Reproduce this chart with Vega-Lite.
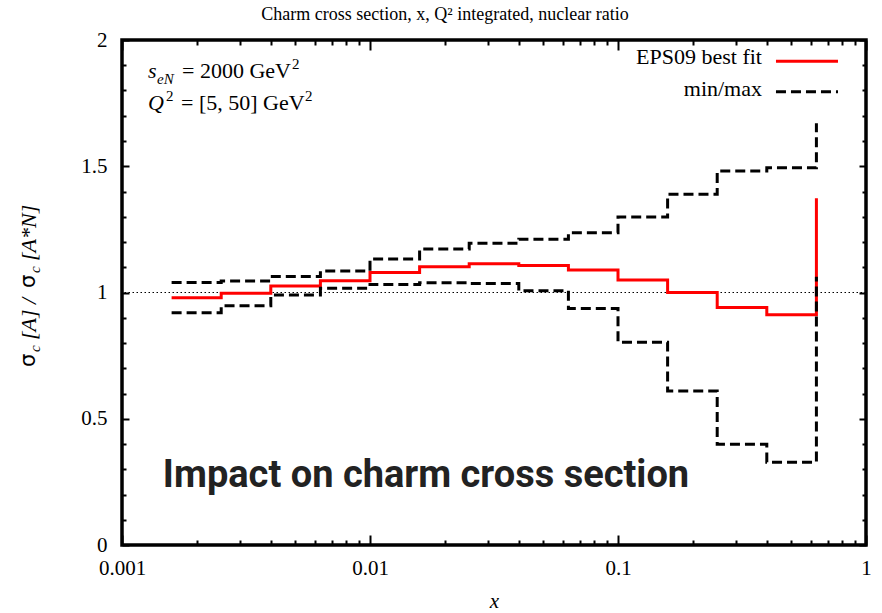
{
 "$schema": "https://vega.github.io/schema/vega-lite/v6.json",
 "width": 744, "height": 505, "autosize": "none",
 "padding": {"left": 122, "top": 40, "right": 16, "bottom": 68},
 "background": "white",
 "config": {"view": {"stroke": "#000", "strokeWidth": 3.5}, "font": "Liberation Serif"},
 "title": {"text": "Charm cross section, x, Q² integrated, nuclear ratio", "font": "Liberation Serif", "fontSize": 18, "fontWeight": "normal", "color": "#000", "anchor": "middle", "dx": -49, "offset": 5},
 "datasets": {
  "best": [
   {"x": 0.001585, "y": 0.979}, {"x": 0.002512, "y": 0.997}, {"x": 0.003981, "y": 1.026},
   {"x": 0.00631, "y": 1.047}, {"x": 0.01, "y": 1.079}, {"x": 0.01585, "y": 1.102},
   {"x": 0.02512, "y": 1.114}, {"x": 0.03981, "y": 1.107}, {"x": 0.0631, "y": 1.089},
   {"x": 0.1, "y": 1.05}, {"x": 0.1585, "y": 1.0}, {"x": 0.2512, "y": 0.941},
   {"x": 0.3981, "y": 0.912}, {"x": 0.631, "y": 1.373}
  ],
  "minmax": [
   {"series": "max", "x": 0.001585, "y": 1.04}, {"series": "max", "x": 0.002512, "y": 1.046},
   {"series": "max", "x": 0.003981, "y": 1.063}, {"series": "max", "x": 0.00631, "y": 1.085},
   {"series": "max", "x": 0.01, "y": 1.133}, {"series": "max", "x": 0.01585, "y": 1.172},
   {"series": "max", "x": 0.02512, "y": 1.195}, {"series": "max", "x": 0.03981, "y": 1.211},
   {"series": "max", "x": 0.0631, "y": 1.237}, {"series": "max", "x": 0.1, "y": 1.299},
   {"series": "max", "x": 0.1585, "y": 1.389}, {"series": "max", "x": 0.2512, "y": 1.481},
   {"series": "max", "x": 0.3981, "y": 1.494}, {"series": "max", "x": 0.631, "y": 1.67},
   {"series": "min", "x": 0.001585, "y": 0.92}, {"series": "min", "x": 0.002512, "y": 0.948},
   {"series": "min", "x": 0.003981, "y": 0.99}, {"series": "min", "x": 0.00631, "y": 1.017},
   {"series": "min", "x": 0.01, "y": 1.032}, {"series": "min", "x": 0.01585, "y": 1.039},
   {"series": "min", "x": 0.02512, "y": 1.036}, {"series": "min", "x": 0.03981, "y": 1.007},
   {"series": "min", "x": 0.0631, "y": 0.937}, {"series": "min", "x": 0.1, "y": 0.803},
   {"series": "min", "x": 0.1585, "y": 0.61}, {"series": "min", "x": 0.2512, "y": 0.399},
   {"series": "min", "x": 0.3981, "y": 0.328}, {"series": "min", "x": 0.631, "y": 1.062}
  ]
 },
 "layer": [
  {"data": {"values": [{}]}, "mark": {"type": "rule", "strokeDash": [1.5, 2.5], "strokeWidth": 1, "color": "#000"},
   "encoding": {"y": {"datum": 1, "type": "quantitative", "axis": null}}},
  {"data": {"name": "best"}, "mark": {"type": "line", "interpolate": "step-after", "color": "#ff0000", "strokeWidth": 3},
   "encoding": {
    "x": {"field": "x", "type": "quantitative", "scale": {"type": "log", "domain": [0.001, 1], "nice": false}, "axis": null},
    "y": {"field": "y", "type": "quantitative", "scale": {"domain": [0, 2], "nice": false, "zero": false}, "axis": null}
   }},
  {"data": {"name": "minmax"}, "mark": {"type": "line", "interpolate": "step-after", "color": "#000", "strokeWidth": 3, "strokeDash": [10, 5]},
   "encoding": {"x": {"field": "x", "type": "quantitative", "axis": null}, "y": {"field": "y", "type": "quantitative", "axis": null}, "detail": {"field": "series"}}},
  {"data": {"name": "best"}, "mark": {"type": "point", "opacity": 0},
   "encoding": {
    "x": {"field": "x", "type": "quantitative",
     "axis": {"orient": "bottom", "values": [0.001, 0.01, 0.1, 1],
      "labelExpr": "datum.value == 0.001 ? '0.001' : datum.value == 0.01 ? '0.01' : datum.value == 0.1 ? '0.1' : '1'",
      "ticks": false, "domain": false, "grid": false,
      "labelFont": "Liberation Serif", "labelFontSize": 21, "labelColor": "#000", "labelPadding": 12, "labelFlush": false, "labelOverlap": false, "labelBound": false,
      "title": "x", "titleFont": "Liberation Serif", "titleFontStyle": "italic", "titleFontWeight": "normal", "titleFontSize": 21, "titleColor": "#000", "titlePadding": 12}},
    "y": {"field": "y", "type": "quantitative",
     "axis": {"orient": "left", "values": [0, 0.5, 1, 1.5, 2],
      "labelExpr": "datum.value == 0 ? '0' : datum.value == 0.5 ? '0.5' : datum.value == 1 ? '1' : datum.value == 1.5 ? '1.5' : '2'",
      "ticks": false, "domain": false, "grid": false,
      "labelFont": "Liberation Serif", "labelFontSize": 21, "labelColor": "#000", "labelPadding": 15, "labelFlush": false, "labelOverlap": false, "labelBound": false,
      "title": null}}
   }},
  {"data": {"name": "best"}, "mark": {"type": "point", "opacity": 0},
   "encoding": {
    "x": {"field": "x", "type": "quantitative",
     "axis": {"orient": "bottom", "values": [0.001, 0.01, 0.1, 1], "labels": false, "title": null, "domain": false, "grid": false,
      "offset": -10, "tickSize": 10, "tickWidth": 2, "tickColor": "#000"}},
    "y": {"field": "y", "type": "quantitative",
     "axis": {"orient": "left", "values": [0, 0.5, 1, 1.5, 2], "labels": false, "title": null, "domain": false, "grid": false,
      "offset": -7, "tickSize": 7, "tickWidth": 2, "tickColor": "#000"}}
   }},
  {"data": {"name": "best"}, "mark": {"type": "point", "opacity": 0},
   "encoding": {
    "x": {"field": "x", "type": "quantitative",
     "axis": {"orient": "bottom", "values": [0.002,0.003,0.004,0.005,0.006,0.007,0.008,0.009,0.02,0.03,0.04,0.05,0.06,0.07,0.08,0.09,0.2,0.3,0.4,0.5,0.6,0.7,0.8,0.9], "labels": false, "title": null, "domain": false, "grid": false,
      "offset": -5, "tickSize": 5, "tickWidth": 2, "tickColor": "#000"}},
    "y": {"field": "y", "type": "quantitative",
     "axis": {"orient": "left", "values": [0.1,0.2,0.3,0.4,0.6,0.7,0.8,0.9,1.1,1.2,1.3,1.4,1.6,1.7,1.8,1.9], "labels": false, "title": null, "domain": false, "grid": false,
      "offset": -4, "tickSize": 4, "tickWidth": 2, "tickColor": "#000"}}
   }},
  {"data": {"name": "best"}, "mark": {"type": "point", "opacity": 0},
   "encoding": {
    "x": {"field": "x", "type": "quantitative",
     "axis": {"orient": "top", "values": [0.001, 0.01, 0.1, 1], "labels": false, "title": null, "domain": false, "grid": false,
      "offset": -10, "tickSize": 10, "tickWidth": 2, "tickColor": "#000"}},
    "y": {"field": "y", "type": "quantitative",
     "axis": {"orient": "right", "values": [0, 0.5, 1, 1.5, 2], "labels": false, "title": null, "domain": false, "grid": false,
      "offset": -7, "tickSize": 7, "tickWidth": 2, "tickColor": "#000"}}
   }},
  {"data": {"name": "best"}, "mark": {"type": "point", "opacity": 0},
   "encoding": {
    "x": {"field": "x", "type": "quantitative",
     "axis": {"orient": "top", "values": [0.002,0.003,0.004,0.005,0.006,0.007,0.008,0.009,0.02,0.03,0.04,0.05,0.06,0.07,0.08,0.09,0.2,0.3,0.4,0.5,0.6,0.7,0.8,0.9], "labels": false, "title": null, "domain": false, "grid": false,
      "offset": -5, "tickSize": 5, "tickWidth": 2, "tickColor": "#000"}},
    "y": {"field": "y", "type": "quantitative",
     "axis": {"orient": "right", "values": [0.1,0.2,0.3,0.4,0.6,0.7,0.8,0.9,1.1,1.2,1.3,1.4,1.6,1.7,1.8,1.9], "labels": false, "title": null, "domain": false, "grid": false,
      "offset": -4, "tickSize": 4, "tickWidth": 2, "tickColor": "#000"}}
   }},
  {"data": {"values": [{}]}, "mark": {"type": "text", "text": "EPS09 best fit", "align": "right", "baseline": "alphabetic", "font": "Liberation Serif", "fontSize": 22, "color": "#000"},
   "encoding": {"x": {"datum": 0.3807, "type": "quantitative", "axis": null}, "y": {"datum": 1.905, "type": "quantitative", "axis": null}}},
  {"data": {"values": [{}]}, "mark": {"type": "text", "text": "min/max", "align": "right", "baseline": "alphabetic", "font": "Liberation Serif", "fontSize": 22, "color": "#000"},
   "encoding": {"x": {"datum": 0.3807, "type": "quantitative", "axis": null}, "y": {"datum": 1.7782, "type": "quantitative", "axis": null}}},
  {"data": {"values": [{}]}, "mark": {"type": "rule", "color": "#ff0000", "strokeWidth": 3},
   "encoding": {"x": {"datum": 0.4335, "type": "quantitative", "axis": null}, "x2": {"datum": 0.771}, "y": {"datum": 1.9156, "type": "quantitative", "axis": null}}},
  {"data": {"values": [{}]}, "mark": {"type": "rule", "color": "#000", "strokeWidth": 3, "strokeDash": [10, 5]},
   "encoding": {"x": {"datum": 0.4335, "type": "quantitative", "axis": null}, "x2": {"datum": 0.771}, "y": {"datum": 1.7952, "type": "quantitative", "axis": null}}},
  {"data": {"values": [{}]}, "mark": {"type": "text", "text": "s", "align": "left", "baseline": "alphabetic", "font": "Liberation Serif", "fontStyle": "italic", "fontSize": 22, "color": "#000"},
   "encoding": {"x": {"datum": 0.001273, "type": "quantitative", "axis": null}, "y": {"datum": 1.8495, "type": "quantitative", "axis": null}}},
  {"data": {"values": [{}]}, "mark": {"type": "text", "text": "eN", "align": "left", "baseline": "alphabetic", "font": "Liberation Serif", "fontStyle": "italic", "fontSize": 15, "color": "#000", "dx": 9, "dy": 6},
   "encoding": {"x": {"datum": 0.001273, "type": "quantitative", "axis": null}, "y": {"datum": 1.8495, "type": "quantitative", "axis": null}}},
  {"data": {"values": [{}]}, "mark": {"type": "text", "text": "= 2000 GeV", "align": "left", "baseline": "alphabetic", "font": "Liberation Serif", "fontSize": 22, "color": "#000", "dx": 34},
   "encoding": {"x": {"datum": 0.001273, "type": "quantitative", "axis": null}, "y": {"datum": 1.8495, "type": "quantitative", "axis": null}}},
  {"data": {"values": [{}]}, "mark": {"type": "text", "text": "2", "align": "left", "baseline": "alphabetic", "font": "Liberation Serif", "fontSize": 15, "color": "#000", "dx": 144, "dy": -9},
   "encoding": {"x": {"datum": 0.001273, "type": "quantitative", "axis": null}, "y": {"datum": 1.8495, "type": "quantitative", "axis": null}}},
  {"data": {"values": [{}]}, "mark": {"type": "text", "text": "Q", "align": "left", "baseline": "alphabetic", "font": "Liberation Serif", "fontStyle": "italic", "fontSize": 22, "color": "#000"},
   "encoding": {"x": {"datum": 0.001273, "type": "quantitative", "axis": null}, "y": {"datum": 1.7228, "type": "quantitative", "axis": null}}},
  {"data": {"values": [{}]}, "mark": {"type": "text", "text": "2", "align": "left", "baseline": "alphabetic", "font": "Liberation Serif", "fontSize": 15, "color": "#000", "dx": 18, "dy": -9},
   "encoding": {"x": {"datum": 0.001273, "type": "quantitative", "axis": null}, "y": {"datum": 1.7228, "type": "quantitative", "axis": null}}},
  {"data": {"values": [{}]}, "mark": {"type": "text", "text": "= [5, 50] GeV", "align": "left", "baseline": "alphabetic", "font": "Liberation Serif", "fontSize": 22, "color": "#000", "dx": 33},
   "encoding": {"x": {"datum": 0.001273, "type": "quantitative", "axis": null}, "y": {"datum": 1.7228, "type": "quantitative", "axis": null}}},
  {"data": {"values": [{}]}, "mark": {"type": "text", "text": "2", "align": "left", "baseline": "alphabetic", "font": "Liberation Serif", "fontSize": 15, "color": "#000", "dx": 157, "dy": -9},
   "encoding": {"x": {"datum": 0.001273, "type": "quantitative", "axis": null}, "y": {"datum": 1.7228, "type": "quantitative", "axis": null}}},
  {"data": {"values": [{}]}, "mark": {"type": "text", "text": "Impact on charm cross section", "align": "center", "baseline": "alphabetic", "font": "Roboto", "fontWeight": "bold", "fontSize": 38, "color": "#222222"},
   "encoding": {"x": {"datum": 0.01682, "type": "quantitative", "axis": null}, "y": {"datum": 0.2297, "type": "quantitative", "axis": null}}},
  {"data": {"values": [{}]}, "mark": {"type": "text", "text": "σ", "angle": 270, "align": "left", "baseline": "middle", "font": "DejaVu Sans", "fontSize": 21, "color": "#000"},
   "encoding": {"x": {"datum": 0.0004217, "type": "quantitative", "axis": null}, "y": {"datum": 0.705, "type": "quantitative", "axis": null}}},
  {"data": {"values": [{}]}, "mark": {"type": "text", "text": "c", "angle": 270, "align": "left", "baseline": "middle", "font": "Liberation Serif", "fontStyle": "italic", "fontSize": 15, "color": "#000", "dx": 15, "dy": 6},
   "encoding": {"x": {"datum": 0.0004217, "type": "quantitative", "axis": null}, "y": {"datum": 0.705, "type": "quantitative", "axis": null}}},
  {"data": {"values": [{}]}, "mark": {"type": "text", "text": "[A] /", "angle": 270, "align": "left", "baseline": "middle", "font": "Liberation Serif", "fontStyle": "italic", "fontSize": 22, "color": "#000", "dx": 27},
   "encoding": {"x": {"datum": 0.0004217, "type": "quantitative", "axis": null}, "y": {"datum": 0.705, "type": "quantitative", "axis": null}}},
  {"data": {"values": [{}]}, "mark": {"type": "text", "text": "σ", "angle": 270, "align": "left", "baseline": "middle", "font": "DejaVu Sans", "fontSize": 21, "color": "#000", "dx": 79},
   "encoding": {"x": {"datum": 0.0004217, "type": "quantitative", "axis": null}, "y": {"datum": 0.705, "type": "quantitative", "axis": null}}},
  {"data": {"values": [{}]}, "mark": {"type": "text", "text": "c", "angle": 270, "align": "left", "baseline": "middle", "font": "Liberation Serif", "fontStyle": "italic", "fontSize": 15, "color": "#000", "dx": 94, "dy": 6},
   "encoding": {"x": {"datum": 0.0004217, "type": "quantitative", "axis": null}, "y": {"datum": 0.705, "type": "quantitative", "axis": null}}},
  {"data": {"values": [{}]}, "mark": {"type": "text", "text": "[A*N]", "angle": 270, "align": "left", "baseline": "middle", "font": "Liberation Serif", "fontStyle": "italic", "fontSize": 22, "color": "#000", "dx": 106},
   "encoding": {"x": {"datum": 0.0004217, "type": "quantitative", "axis": null}, "y": {"datum": 0.705, "type": "quantitative", "axis": null}}}
 ],
 "resolve": {"axis": {"x": "independent", "y": "independent"}}
}
